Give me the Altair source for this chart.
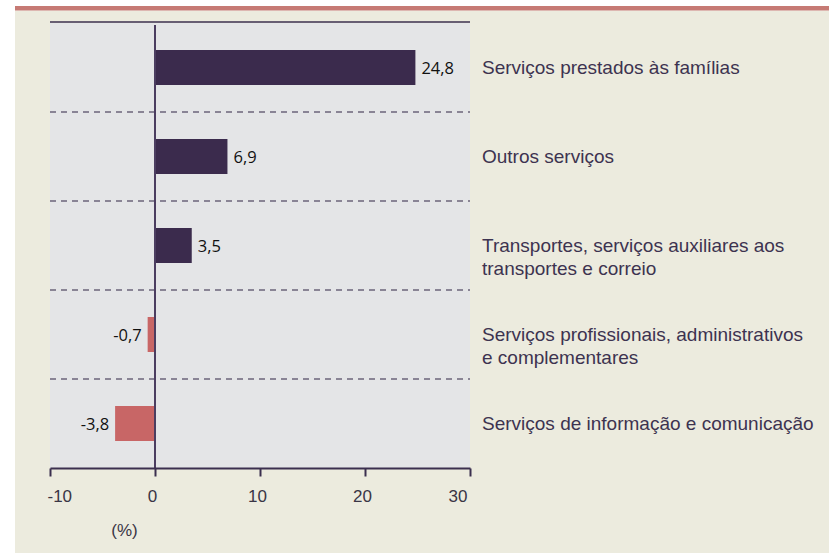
import altair as alt
import pandas as pd

categories = [
    "Serviços prestados às famílias",
    "Outros serviços",
    "Transportes, serviços auxiliares aos\ntransportes e correio",
    "Serviços profissionais, administrativos\ne complementares",
    "Serviços de informação e comunicação",
]
values = [24.8, 6.9, 3.5, -0.7, -3.8]
x_ticks = [-10, 0, 10, 20, 30]

df = pd.DataFrame({
    "idx": list(range(len(categories))),
    "cat": categories,
    "value": values,
    "label": [f"{v:.1f}".replace(".", ",") for v in values],
    "sign": ["pos" if v >= 0 else "neg" for v in values],
})
one = pd.DataFrame({"a": [0]})

DARK = "#3b2f4f"
TXT = "#3a3545"

xscale = alt.Scale(domain=[-10, 30], nice=False, zero=False)
xaxis = alt.Axis(
    values=x_ticks, title="(%)", grid=False, zindex=2,
    labelExpr="'' + datum.value",
    domainColor=DARK, domainWidth=2, tickColor=DARK, tickWidth=2, tickSize=8,
    labelFont="Liberation Sans", labelFontSize=17, labelColor=TXT, labelPadding=12,
    labelOffset=-3, labelOverlap=False,
    titleFont="Liberation Sans", titleFontSize=17, titleFontWeight="normal", titleColor=TXT,
    titleX=74, titleY=62, titleAlign="center", titleBaseline="middle",
)
yscale = alt.Scale(paddingInner=0, paddingOuter=0)
Y = alt.Y("cat:N", sort=categories, scale=yscale, axis=None)
X = alt.X("value:Q", scale=xscale, axis=xaxis)

beige = alt.Chart(one).mark_rect(color="#ecebde").encode(
    x=alt.value(-35), x2=alt.value(779), y=alt.value(-12.5), y2=alt.value(530))
redline = alt.Chart(one).mark_rect(color="#c67a74").encode(
    x=alt.value(-35), x2=alt.value(779), y=alt.value(-17), y2=alt.value(-12.5))
plotbg = alt.Chart(one).mark_rect(color="#e4e5e7").encode(
    x=alt.value(0), x2=alt.value(420), y=alt.value(0), y2=alt.value(445))
topline = alt.Chart(one).mark_rule(color=DARK, strokeWidth=1.5).encode(
    x=alt.value(0), x2=alt.value(420), y=alt.value(-1))

dashes = alt.Chart(df).transform_filter(alt.datum.idx > 0).mark_rule(
    color="#2f2545", strokeWidth=1.2, strokeDash=[6, 5]).encode(
    y=alt.Y("cat:N", sort=categories, scale=yscale, axis=None, bandPosition=0),
    x=alt.value(0), x2=alt.value(420))

bars = alt.Chart(df).mark_bar(size=35).encode(
    x=X, x2=alt.X2(datum=0), y=Y,
    color=alt.Color("sign:N", scale=alt.Scale(domain=["pos", "neg"], range=["#3b2b4d", "#c86666"]), legend=None),
)

zero = alt.Chart(one).mark_rule(color="#4b3d60", strokeWidth=2).encode(
    x=alt.X(datum=0, type="quantitative", scale=xscale, axis=xaxis),
    y=alt.value(2), y2=alt.value(445))

pos_txt = alt.Chart(df).transform_filter(alt.datum.value >= 0).mark_text(
    align="left", baseline="middle", dx=6, dy=1, font="Open Sans", fontSize=16.5, color="#111111").encode(
    x=X, y=Y, text="label:N")
neg_txt = alt.Chart(df).transform_filter(alt.datum.value < 0).mark_text(
    align="right", baseline="middle", dx=-6, dy=1, font="Open Sans", fontSize=16.5, color="#111111").encode(
    x=X, y=Y, text="label:N")

cat_txt = alt.Chart(df).mark_text(
    align="left", baseline="middle", lineBreak="\n", lineHeight=23,
    font="Liberation Sans", fontSize=19, color="#3d3350").encode(
    x=alt.value(432), y=Y, text="cat:N")

chart = alt.layer(
    beige, redline, plotbg, topline, dashes, bars, zero, pos_txt, neg_txt, cat_txt
).properties(
    width=420, height=445,
    autosize=alt.AutoSizeParams(type="none"),
    padding={"left": 50, "top": 23, "right": 359, "bottom": 85},
    background="#ffffff",
).configure_view(stroke=None, fill=None)

chart.save("out.html", embed_options={"renderer": "svg", "actions": False})
